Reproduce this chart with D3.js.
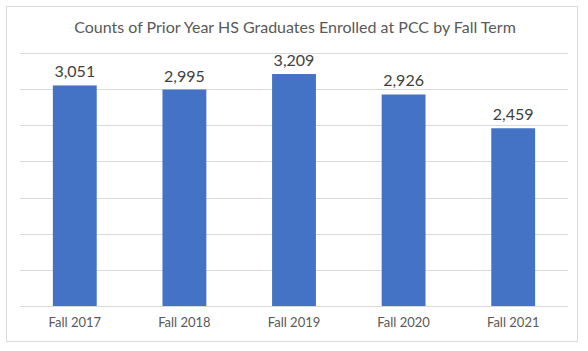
<!DOCTYPE html>
<html><head><meta charset="utf-8">
<script src="https://cdn.jsdelivr.net/npm/d3@7"></script>
<style>body{margin:0;background:#fff}svg{display:block}</style>
</head><body><div id="c"></div>
<script>
const categories = ["Fall 2017","Fall 2018","Fall 2019","Fall 2020","Fall 2021"];
const values = [3051,2995,3209,2926,2459];
const yTicks = [0,500,1000,1500,2000,2500,3000,3500];
const title = "Counts of Prior Year HS Graduates Enrolled at PCC by Fall Term";

const W=588,H=351;
const svg=d3.select("#c").append("svg").attr("width",W).attr("height",H);
svg.append("rect").attr("x",6.5).attr("y",6.5).attr("width",571).attr("height",335)
  .attr("fill","#fff").attr("stroke","#d9d9d9");
const x=d3.scaleBand().domain(categories).range([20,568]).paddingInner(0.6).paddingOuter(0.3);
const y=d3.scaleLinear().domain([0,3500]).range([306,53]);
const font="Lato, 'Open Sans', sans-serif";
svg.append("g").selectAll("line").data(yTicks).join("line")
  .attr("x1",20).attr("x2",568).attr("y1",d=>Math.round(y(d))+0.5).attr("y2",d=>Math.round(y(d))+0.5)
  .attr("stroke",(d)=>"#d9d9d9");
svg.append("g").selectAll("rect").data(values).join("rect")
  .attr("x",(d,i)=>x(categories[i])).attr("width",x.bandwidth())
  .attr("y",d=>y(d)).attr("height",d=>y(0)-y(d)).attr("fill","#4472c4");
svg.append("g").selectAll("text").data(values).join("text")
  .attr("x",(d,i)=>x(categories[i])+x.bandwidth()/2).attr("y",d=>y(d)-8)
  .attr("text-anchor","middle").attr("font-family",font).attr("font-size",16).attr("fill","#404040")
  .text(d=>d3.format(",")(d));
const xa=d3.axisBottom(x).tickSize(0).tickPadding(12);
const g=svg.append("g").attr("transform","translate(0,306)").call(xa);
g.select(".domain").remove();
g.selectAll("text").attr("font-family",font).attr("font-size",13).attr("fill","#595959");
svg.append("text").attr("x",W/2+1).attr("y",33).attr("text-anchor","middle")
  .attr("font-family",font).attr("font-size",16).attr("fill","#595959").text(title);
</script></body></html>
